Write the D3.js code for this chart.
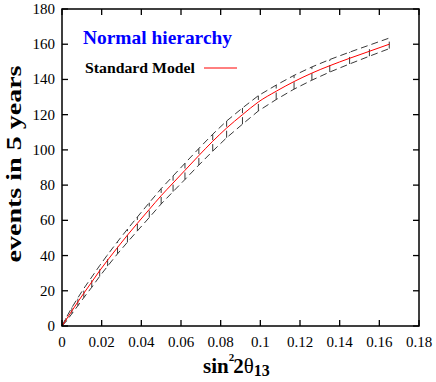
<!DOCTYPE html>
<html><head><meta charset="utf-8">
<script src="https://cdn.jsdelivr.net/npm/d3@7"></script>
<style>body{margin:0;background:#fff}svg{display:block}text{font-family:"Liberation Serif","DejaVu Serif","Times New Roman",serif}</style>
</head><body>
<script>
// data
const s2t = [0,0.002,0.005,0.008,0.011,0.015,0.019,0.023,0.028,0.033,0.038,0.044,0.050,0.056,0.062,0.069,0.076,0.083,0.091,0.099,0.108,0.117,0.126,0.135,0.145,0.155,0.165];
const smEvents = [0,3.4,8.6,13.7,18.6,25,31.4,37.4,44.6,51.6,58.3,66.2,74,81.2,88.4,96.8,104.9,112.4,120,127.2,133.3,138.8,143.6,147.8,152,156,160];
const upperEvents = [0,4.5,10.5,16,21.3,27.8,34.3,40.5,47.9,55,61.9,70,78,85.2,92.4,100.8,108.9,116.4,123.8,130.8,136.8,142.3,147.1,151.3,155.5,159.5,163.5];
const lowerEvents = [0,2.5,7,11.5,16.1,22,28.2,34,41,47.6,54,61.6,69.3,76.3,83.2,91.4,99.3,106.9,114.6,122.1,128.6,134.5,139.6,144.2,148.8,153.2,157.5];
const xTicks = [0,0.02,0.04,0.06,0.08,0.1,0.12,0.14,0.16,0.18];
const xTickLabels = ["0","0.02","0.04","0.06","0.08","0.1","0.12","0.14","0.16","0.18"];
const yTicks = [0,20,40,60,80,100,120,140,160,180];
const titleText = "Normal hierarchy";
const legendText = "Standard Model";

const W=436,H=382;
const L=62,R=419,T=9,B=326;
const x=d3.scaleLinear().domain([0,0.18]).range([L,R]);
const y=d3.scaleLinear().domain([0,180]).range([B,T]);
const svg=d3.select("body").append("svg").attr("width",W).attr("height",H);

const pts=s2t.map((v,i)=>({x:v,c:smEvents[i],u:upperEvents[i],l:lowerEvents[i]}));
const dash="7,4";
// band
const lineU=d3.line().x(d=>x(d.x)).y(d=>y(d.u));
const lineL=d3.line().x(d=>x(d.x)).y(d=>y(d.l));
svg.append("path").attr("d",lineU(pts)).attr("fill","none").attr("stroke","#222").attr("stroke-width",0.9).attr("stroke-dasharray",dash);
svg.append("path").attr("d",lineL(pts)).attr("fill","none").attr("stroke","#222").attr("stroke-width",0.9).attr("stroke-dasharray",dash);
svg.append("g").selectAll("line").data(pts.slice(1)).join("line")
  .attr("x1",d=>x(d.x)).attr("x2",d=>x(d.x)).attr("y1",d=>y(d.l)).attr("y2",d=>y(d.u))
  .attr("stroke","#222").attr("stroke-width",0.9).attr("stroke-dasharray",dash);
// central curve
svg.append("path").attr("d",d3.line().curve(d3.curveMonotoneX).x(d=>x(d.x)).y(d=>y(d.c))(pts))
  .attr("fill","none").attr("stroke","#ff0000").attr("stroke-width",1);

// axes frame
const ax=svg.append("g").attr("stroke","#000").attr("stroke-width",1.3);
xTicks.forEach(t=>{
  ax.append("line").attr("x1",x(t)).attr("x2",x(t)).attr("y1",B).attr("y2",B-6);
  ax.append("line").attr("x1",x(t)).attr("x2",x(t)).attr("y1",T).attr("y2",T+6);
});
yTicks.forEach(t=>{
  ax.append("line").attr("x1",L).attr("x2",L+6).attr("y1",y(t)).attr("y2",y(t));
  ax.append("line").attr("x1",R).attr("x2",R-6).attr("y1",y(t)).attr("y2",y(t));
});
svg.append("rect").attr("x",L).attr("y",T).attr("width",R-L).attr("height",B-T)
  .attr("fill","none").attr("stroke","#000").attr("stroke-width",1.5);

// tick labels
svg.append("g").selectAll("text").data(xTicks).join("text")
  .attr("x",d=>x(d)).attr("y",B+21).attr("text-anchor","middle")
  .attr("font-size",15).text((d,i)=>xTickLabels[i]);
svg.append("g").selectAll("text").data(yTicks).join("text")
  .attr("x",L-7).attr("y",d=>y(d)+5).attr("text-anchor","end")
  .attr("font-size",15).text(d=>d);

// title & legend
svg.append("text").attr("x",83).attr("y",44).attr("font-weight","bold")
  .attr("font-size",19).attr("fill","#0000ff").attr("textLength",149).attr("lengthAdjust","spacingAndGlyphs").text(titleText);
svg.append("text").attr("x",85).attr("y",73).attr("font-weight","bold")
  .attr("font-size",14.5).attr("fill","#000").attr("textLength",110).attr("lengthAdjust","spacingAndGlyphs").text(legendText);
svg.append("line").attr("x1",204).attr("x2",237).attr("y1",68).attr("y2",68).attr("stroke","#ff0000").attr("stroke-width",1);

// axis titles
svg.append("text").attr("transform","translate(21,164) rotate(-90)").attr("text-anchor","middle")
  .attr("font-weight","bold").attr("font-size",22)
  .attr("textLength",197).attr("lengthAdjust","spacingAndGlyphs").text("events in 5 years");
const xl=svg.append("text").attr("x",203).attr("y",373).attr("font-weight","bold").attr("font-size",21);
xl.append("tspan").text("sin");
xl.append("tspan").attr("dy",-12).attr("dx",0).attr("font-size",11).text("2");
xl.append("tspan").attr("dy",12).attr("dx",-1).text("2");
xl.append("tspan").attr("font-weight","normal").attr("font-size",21).text("θ");
xl.append("tspan").attr("dy",3).attr("font-size",16).text("13");
</script>
</body></html>
